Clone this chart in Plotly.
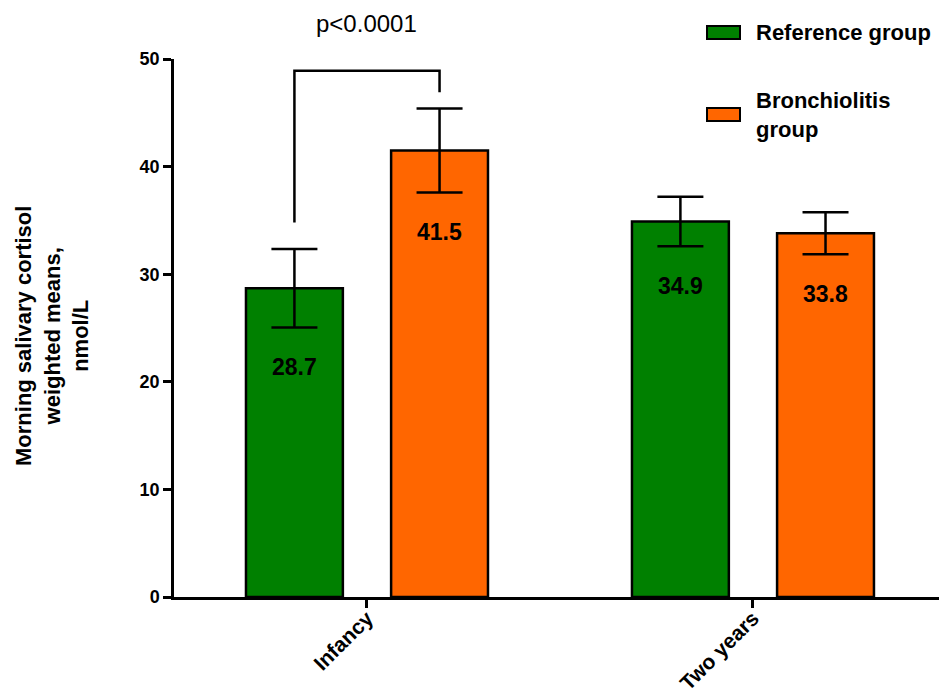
import plotly.graph_objects as go

# ---- data ----
categories = ["Infancy", "Two years"]
series_names = ["Reference group", "Bronchiolitis group"]
reference_means = [28.7, 34.9]
reference_err = [3.65, 2.3]
bronch_means = [41.5, 33.8]
bronch_err = [3.9, 1.95]
y_ticks = [0, 10, 20, 30, 40, 50]
p_text = "p<0.0001"
# bracket between Infancy bars (y values: left foot, top, right foot)
bracket_y = [34.8, 48.9, 48.9, 46.9]

# ---- style ----
FONT = "Liberation Sans, Arial, Helvetica, sans-serif"
colors = ["#008000", "#FF6600"]
bar_w = 0.251
half_sep = 0.188
LW = 2.5

x_idx = list(range(len(categories)))
series = [(reference_means, reference_err), (bronch_means, bronch_err)]
shift = [-half_sep, half_sep]

fig = go.Figure()
for k, (vals, errs) in enumerate(series):
    fig.add_trace(go.Bar(
        x=x_idx, y=vals, name=series_names[k],
        width=bar_w, offset=shift[k] - bar_w / 2,
        marker=dict(color=colors[k], line=dict(color="black", width=LW)),
        error_y=dict(type="data", array=errs, visible=True, color="black",
                     thickness=LW, width=23),
        showlegend=False,
    ))

# value labels inside bars
for k, (vals, errs) in enumerate(series):
    for i, (v, e) in enumerate(zip(vals, errs)):
        fig.add_annotation(x=i + shift[k], y=v - e - 3.7, text=f"{v:.1f}",
                           showarrow=False, xanchor="center", yanchor="middle",
                           font=dict(family=FONT, size=23, color="black", weight="bold"))

# significance bracket
fig.add_trace(go.Scatter(
    x=[shift[0], shift[0], shift[1], shift[1]], y=bracket_y,
    mode="lines", line=dict(color="black", width=LW), showlegend=False,
    hoverinfo="skip", cliponaxis=False,
))

PL, PR, PT, PB = 174, 939, 59, 597
def px(xp): return (xp - PL) / (PR - PL)
def py(yp): return (PB - yp) / (PB - PT)

fig.add_annotation(x=0, xref="x", yref="paper", y=py(24), text=p_text, showarrow=False,
                   xanchor="center", yanchor="middle",
                   font=dict(family=FONT, size=24, color="black"))

# manual legend (wide rectangular swatches)
legend_rows = [(32.5, series_names[0]), (114.5, "Bronchiolitis<br>group")]
for k, (yc, label) in enumerate(legend_rows):
    fig.add_shape(type="rect", xref="paper", yref="paper",
                  x0=px(707), x1=px(740), y0=py(yc + 6.5), y1=py(yc - 6.5),
                  fillcolor=colors[k], line=dict(color="black", width=2))
    fig.add_annotation(xref="paper", yref="paper", x=px(754), y=py(yc),
                       text=label, showarrow=False, xanchor="left", yanchor="middle",
                       align="left",
                       font=dict(family=FONT, size=22, color="black", weight="bold"))

# y-axis title
fig.add_annotation(xref="paper", yref="paper", x=px(52), y=py(336),
                   text="Morning salivary cortisol<br>weighted means,<br>nmol/L",
                   textangle=-90, showarrow=False, xanchor="center", yanchor="middle",
                   align="center",
                   font=dict(family=FONT, size=22, color="black", weight="bold"))

fig.update_layout(
    width=939, height=693,
    margin=dict(l=PL, r=0, t=PT, b=693 - PB),
    plot_bgcolor="white", paper_bgcolor="white",
    barmode="overlay",
    font=dict(family=FONT, color="black"),
)
fig.update_xaxes(
    range=[-0.5, 1.482], tickvals=x_idx, ticktext=categories, tickangle=-45,
    showline=True, linecolor="black", linewidth=LW,
    ticks="outside", ticklen=8, tickwidth=LW, tickcolor="black",
    showgrid=False, zeroline=False, automargin=False,
    ticklabelstandoff=-10,
    tickfont=dict(family=FONT, size=21, color="black", weight="bold"),
)
fig.update_yaxes(
    range=[0, 50], tickvals=y_ticks,
    showline=True, linecolor="black", linewidth=LW,
    ticks="outside", ticklen=8, tickwidth=LW, tickcolor="black",
    showgrid=False, zeroline=False, automargin=False,
    tickfont=dict(family=FONT, size=18, color="black", weight="bold"),
)

fig.write_html("out.html", config={"displayModeBar": False},
               post_script="document.body.style.margin='0px';")
